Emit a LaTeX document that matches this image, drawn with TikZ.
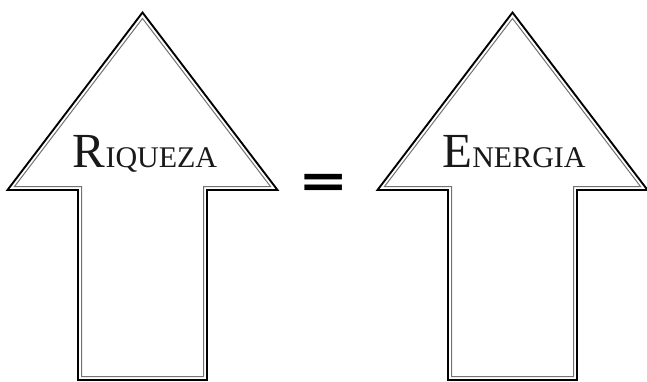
\documentclass[tikz,border=0pt]{standalone}
\usepackage{fontspec}
\setmainfont{Liberation Serif}
\newfontfamily\eqfont{DejaVu Sans}
\tikzset{
  outerline/.style={draw=black,line width=1.9pt,line join=miter,fill=white},
  innerline/.style={draw=black!55,line width=1pt,line join=miter},
  bigarrow/.pic={
    \path[outerline] (0,12.5) -- (135,190) -- (64.5,190) -- (64.5,380) -- (-64.5,380) -- (-64.5,190) -- (-135,190) -- cycle;
    \path[innerline] (0,18.5) -- (128,186.5) -- (61,186.5) -- (61,376.5) -- (-61,376.5) -- (-61,186.5) -- (-128,186.5) -- cycle;
  },
  txtlabel/.style={anchor=base,inner sep=0pt,text=black!90}
}
\newcommand{\capbig}[1]{{\fontsize{49}{49}\selectfont #1}}
\newcommand{\capsmall}[1]{{\fontsize{30}{30}\selectfont #1}}
\begin{document}
\begin{tikzpicture}[x=1pt,y=-1pt]
\useasboundingbox (0,0) rectangle (647,381);
\fill[white] (0,0) rectangle (647,381);
\pic at (142.5,0) {bigarrow};
\pic at (512.5,0) {bigarrow};
\node[txtlabel] (riq) at (145,167) {\capbig{R}\capsmall{IQUEZA}};
\node[txtlabel] (ene) at (514,167) {\capbig{E}\capsmall{NERGIA}};
\node[inner sep=0pt,anchor=base,text=black,xscale=1.25] (eq) at (323.5,197.5) {\eqfont\bfseries\fontsize{48}{48}\selectfont =};
\end{tikzpicture}
\end{document}
